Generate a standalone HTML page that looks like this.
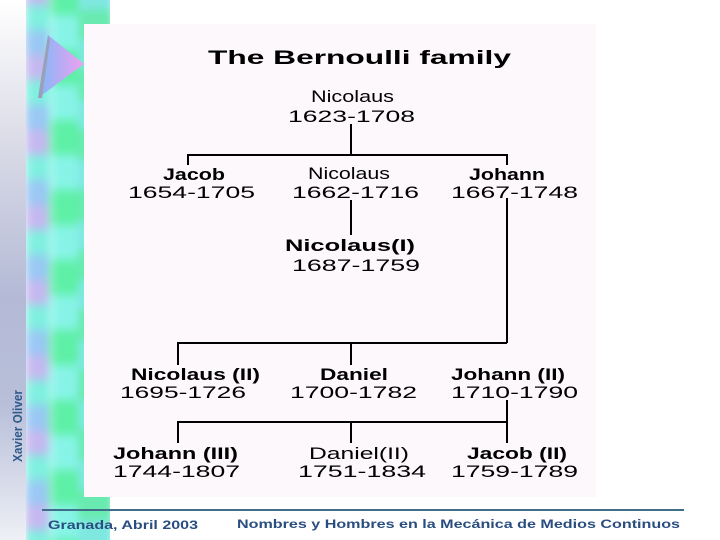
<!DOCTYPE html>
<html><head><meta charset="utf-8"><style>
html,body{margin:0;padding:0}
body{width:720px;height:540px;position:relative;overflow:hidden;background:#fff;font-family:"Liberation Sans",sans-serif}
.strip{position:absolute;left:0;top:0;width:110px;height:540px;overflow:hidden}
.c1{position:absolute;left:0;top:0;width:26px;height:540px;background:linear-gradient(#fff 0%,#dcdde8 25%,#b4bad6 55%,#b8bfd9 75%,#eef0f6 100%)}
.c2{position:absolute;left:25px;top:-20px;width:28px;height:580px;filter:blur(5px);background:repeating-linear-gradient(180deg,#c6b8f0 0 25px,#80f0e0 25px 50px,#9ac8f4 50px 75px)}
.c3{position:absolute;left:50px;top:-20px;width:40px;height:580px;filter:blur(5px);background:repeating-linear-gradient(180deg,#5ef0a6 0 35px,#88f4e8 35px 70px)}
.c4{position:absolute;left:78px;top:-20px;width:35px;height:580px;filter:blur(4px);background:repeating-linear-gradient(180deg,#7ee8e0 0 30px,#68eab0 30px 60px)}
.panel{position:absolute;left:84px;top:24px;width:512px;height:473px;background:#fdf8fc}
svg{position:absolute;left:0;top:0}
</style></head><body>
<div class="strip"><div class="c2"></div><div class="c3"></div><div class="c4"></div><div class="c1"></div></div>
<div class="panel"></div>
<svg width="720" height="540" viewBox="0 0 720 540">
<defs><linearGradient id="tg" x1="0" x2="1"><stop offset="0" stop-color="#80b8f8"/><stop offset="1" stop-color="#f0a0f0"/></linearGradient></defs>
<polygon points="48,35 84,64 38,98" fill="url(#tg)"/>
<polygon points="48,35 38,98 42,98 50,40" fill="#9aa0b8"/>
<text transform="translate(22,462) rotate(-90)" font-size="13" font-weight="bold" fill="#2f5a8a" textLength="72" lengthAdjust="spacingAndGlyphs">Xavier Oliver</text>
<g stroke="#000" stroke-width="2" fill="none">
<path d="M351 124V155M188 165V155H507V165M351 200V235M507 198V343M178 365V343H507M351 343V365M507 400V422H178V443M351 422V443M507 422V443"/>
</g>
<g fill="#000" font-size="17">
<text x="208" y="64" font-weight="bold" font-size="19" textLength="303" lengthAdjust="spacingAndGlyphs">The Bernoulli family</text>
<text x="311" y="102" textLength="83" lengthAdjust="spacingAndGlyphs">Nicolaus</text>
<text x="288" y="122" textLength="127" lengthAdjust="spacingAndGlyphs">1623-1708</text>
<text x="163" y="180" font-weight="bold" textLength="62" lengthAdjust="spacingAndGlyphs">Jacob</text>
<text x="128" y="198" textLength="127" lengthAdjust="spacingAndGlyphs">1654-1705</text>
<text x="308" y="179" textLength="82" lengthAdjust="spacingAndGlyphs">Nicolaus</text>
<text x="292" y="198" textLength="127" lengthAdjust="spacingAndGlyphs">1662-1716</text>
<text x="469" y="180" font-weight="bold" textLength="76" lengthAdjust="spacingAndGlyphs">Johann</text>
<text x="451" y="198" textLength="127" lengthAdjust="spacingAndGlyphs">1667-1748</text>
<text x="285" y="251" font-weight="bold" textLength="130" lengthAdjust="spacingAndGlyphs">Nicolaus(I)</text>
<text x="292" y="271" textLength="128" lengthAdjust="spacingAndGlyphs">1687-1759</text>
<text x="131" y="380" font-weight="bold" textLength="129" lengthAdjust="spacingAndGlyphs">Nicolaus (II)</text>
<text x="120" y="398" textLength="126" lengthAdjust="spacingAndGlyphs">1695-1726</text>
<text x="320" y="380" font-weight="bold" textLength="68" lengthAdjust="spacingAndGlyphs">Daniel</text>
<text x="290" y="398" textLength="127" lengthAdjust="spacingAndGlyphs">1700-1782</text>
<text x="451" y="380" font-weight="bold" textLength="114" lengthAdjust="spacingAndGlyphs">Johann (II)</text>
<text x="451" y="398" textLength="127" lengthAdjust="spacingAndGlyphs">1710-1790</text>
<text x="113" y="459" font-weight="bold" textLength="125" lengthAdjust="spacingAndGlyphs">Johann (III)</text>
<text x="113" y="477" textLength="127" lengthAdjust="spacingAndGlyphs">1744-1807</text>
<text x="309" y="459" textLength="100" lengthAdjust="spacingAndGlyphs">Daniel(II)</text>
<text x="298" y="477" textLength="128" lengthAdjust="spacingAndGlyphs">1751-1834</text>
<text x="467" y="459" font-weight="bold" textLength="100" lengthAdjust="spacingAndGlyphs">Jacob (II)</text>
<text x="451" y="477" textLength="127" lengthAdjust="spacingAndGlyphs">1759-1789</text>
</g>
<line x1="42" y1="510" x2="684" y2="510" stroke="#3f6f88" stroke-width="2"/>
<g fill="#2a4d80" font-size="12" font-weight="bold">
<text x="48" y="529" textLength="150" lengthAdjust="spacingAndGlyphs">Granada, Abril 2003</text>
<text x="237" y="528" textLength="443" lengthAdjust="spacingAndGlyphs">Nombres y Hombres en la  Mecánica de Medios Continuos</text>
</g>
</svg>
</body></html>
